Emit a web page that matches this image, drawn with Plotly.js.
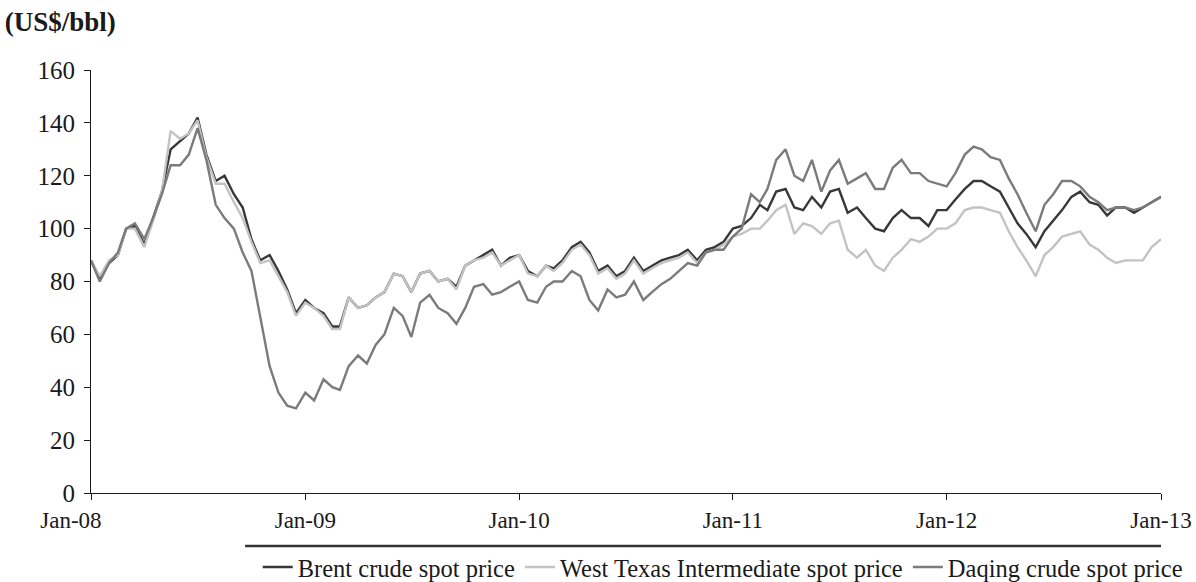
<!DOCTYPE html>
<html>
<head>
<meta charset="utf-8">
<script src="https://cdn.plot.ly/plotly-3.0.1.min.js"></script>
<style>
  html, body { margin: 0; padding: 0; background: #ffffff; }
  #chart { width: 1196px; height: 582px; }
</style>
</head>
<body>
<div id="chart"></div>
<script>
// Semi-monthly observations (1st and 16th of each month), Jan 2008 – Jan 2013, US$/bbl
const years = [2008, 2009, 2010, 2011, 2012];
const endDate = "2013-01-01";

const seriesNames = ["Brent crude spot price", "West Texas Intermediate spot price", "Daqing crude spot price"];

const brent = [
  88, 81, 87, 90, 100, 101, 94, 104, 114, 130, 133, 136, 142, 128, 118, 120, 113, 108, 96, 88, 90, 84, 77, 68,
  73, 70, 68, 63, 63, 74, 70, 71, 74, 76, 83, 82, 76, 83, 84, 80, 81, 78, 86, 88, 90, 92, 86, 89,
  90, 84, 82, 86, 85, 88, 93, 95, 91, 84, 86, 82, 84, 89, 84, 86, 88, 89, 90, 92, 88, 92, 93, 95,
  100, 101, 104, 109, 107, 114, 115, 108, 107, 112, 108, 114, 115, 106, 108, 104, 100, 99, 104, 107, 104, 104, 101, 107,
  107, 111, 115, 118, 118, 116, 114, 108, 102, 98, 93, 99, 103, 107, 112, 114, 110, 109, 105, 108, 108, 106, 108, 110,
  112
];

const wti = [
  88, 82, 88, 90, 100, 100, 93, 103, 114, 137, 134, 136, 141, 127, 117, 117, 110, 104, 95, 87, 88, 82, 76, 67,
  72, 70, 67, 62, 62, 74, 70, 71, 74, 76, 83, 82, 76, 83, 84, 80, 81, 77, 86, 88, 89, 91, 86, 88,
  90, 83, 82, 86, 84, 87, 92, 94, 90, 83, 85, 81, 83, 88, 83, 85, 87, 88, 89, 91, 87, 91, 92, 94,
  97, 98, 100, 100, 103, 107, 109, 98, 102, 101, 98, 102, 103, 92, 89, 92, 86, 84, 89, 92, 96, 95, 97, 100,
  100, 102, 107, 108, 108, 107, 106, 99, 93, 88, 82, 90, 93, 97, 98, 99, 94, 92, 89, 87, 88, 88, 88, 93,
  96
];

const daqing = [
  88, 80, 87, 91, 100, 102, 96, 104, 113, 124, 124, 128, 138, 126, 109, 104, 100, 91, 84, 66, 48, 38, 33, 32,
  38, 35, 43, 40, 39, 48, 52, 49, 56, 60, 70, 67, 59, 72, 75, 70, 68, 64, 70, 78, 79, 75, 76, 78,
  80, 73, 72, 78, 80, 80, 84, 82, 73, 69, 77, 74, 75, 80, 73, 76, 79, 81, 84, 87, 86, 91, 92, 92,
  97, 100, 113, 110, 115, 126, 130, 120, 118, 126, 114, 122, 126, 117, 119, 121, 115, 115, 123, 126, 121, 121, 118, 117,
  116, 121, 128, 131, 130, 127, 126, 119, 113, 106, 99, 109, 113, 118, 118, 116, 112, 110, 107, 108, 108, 107, 108, 110,
  112
];

const tickDates = ["2008-01-01", "2009-01-01", "2010-01-01", "2011-01-01", "2012-01-01", "2013-01-01"];
const tickLabels = ["Jan-08\u00a0\u00a0\u00a0\u00a0\u00a0\u00a0\u00a0", "Jan-09", "Jan-10", "Jan-11", "Jan-12", "Jan-13"];

const lineColors = ["#383838", "#c3c3c3", "#7b7b7b"];

// build date axis values
const dates = [];
years.forEach(y => {
  for (let m = 1; m <= 12; m++) {
    const mm = String(m).padStart(2, "0");
    dates.push(`${y}-${mm}-01`);
    dates.push(`${y}-${mm}-16`);
  }
});
dates.push(endDate);

const seriesValues = [brent, wti, daqing];
const traces = seriesValues.map((vals, i) => ({
  type: "scatter",
  mode: "lines",
  name: seriesNames[i],
  x: dates,
  y: vals,
  line: { color: lineColors[i], width: 2.4 },
  hoverinfo: "x+y+name"
}));

const fontFamily = "Liberation Serif, Times New Roman, DejaVu Serif, serif";

const layout = {
  width: 1196,
  height: 582,
  margin: { l: 91, r: 35, t: 70, b: 89, autoexpand: false },
  paper_bgcolor: "#ffffff",
  plot_bgcolor: "#ffffff",
  font: { family: fontFamily, size: 24, color: "#1a1a1a" },
  title: {
    text: "<b>(US$/bbl)</b>",
    x: 0.004, xanchor: "left", xref: "container",
    y: 0.963, yanchor: "middle", yref: "container",
    font: { family: fontFamily, size: 27, color: "#1a1a1a" }
  },
  xaxis: {
    type: "date",
    range: [tickDates[0], tickDates[tickDates.length - 1]],
    tickvals: tickDates,
    ticktext: tickLabels,
    showgrid: false,
    zeroline: false,
    showline: true,
    linecolor: "#1a1a1a",
    linewidth: 1,
    ticks: "outside",
    ticklen: 6,
    tickcolor: "#1a1a1a",
    tickfont: { family: fontFamily, size: 23, color: "#1a1a1a" },
    automargin: false,
    fixedrange: true
  },
  yaxis: {
    range: [0, 160],
    tickvals: [0, 20, 40, 60, 80, 100, 120, 140, 160],
    showgrid: false,
    zeroline: false,
    showline: true,
    linecolor: "#1a1a1a",
    linewidth: 1,
    ticks: "outside",
    ticklen: 6,
    tickcolor: "#1a1a1a",
    ticklabelstandoff: 4,
    tickfont: { family: fontFamily, size: 25, color: "#1a1a1a" },
    automargin: false,
    fixedrange: true
  },
  showlegend: true,
  legend: {
    orientation: "h",
    x: 1.025, xanchor: "right", xref: "paper",
    y: -0.175, yanchor: "middle", yref: "paper",
    font: { family: fontFamily, size: 24.5, color: "#1a1a1a" },
    itemwidth: 30,
    tracegroupgap: 0,
    bgcolor: "rgba(0,0,0,0)"
  },
  shapes: [{
    type: "line",
    xref: "paper", yref: "paper",
    x0: 0.144, x1: 1.0,
    y0: -0.125, y1: -0.125,
    line: { color: "#333", width: 2.5 }
  }]
};

Plotly.newPlot("chart", traces, layout, { displayModeBar: false, staticPlot: true });
</script>
</body>
</html>
